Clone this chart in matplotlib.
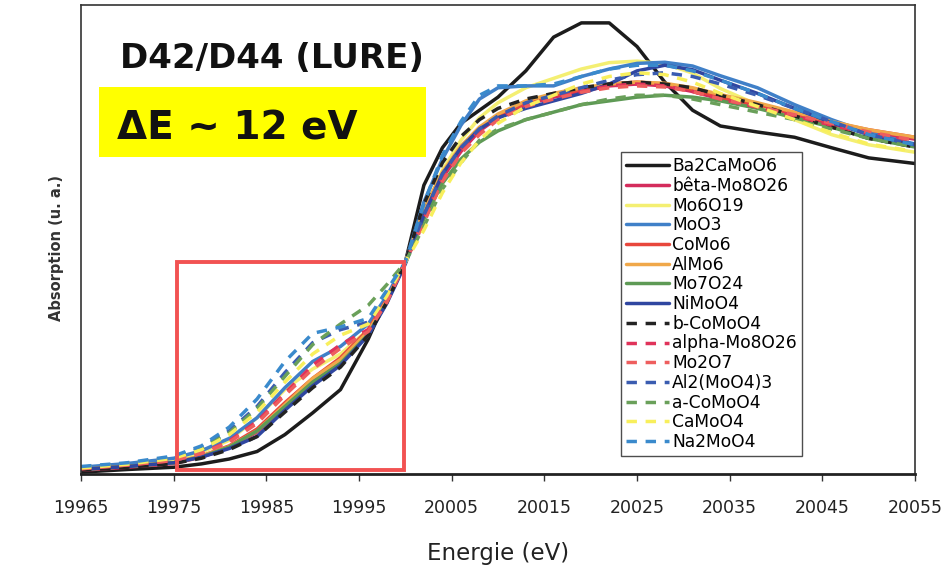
import matplotlib
matplotlib.use("Agg")
import matplotlib.pyplot as plt
from matplotlib.patches import Rectangle

# Energy grid (eV) shared by every spectrum
energy = [19965, 19970, 19975, 19978, 19981, 19984, 19987, 19990, 19993, 19996,
          19998, 20000, 20002, 20004, 20006, 20008, 20010, 20013, 20016, 20019,
          20022, 20025, 20028, 20031, 20034, 20038, 20042, 20046, 20050, 20055]

# Normalised Mo K-edge absorption (arbitrary units)
ba2camoo6 = [.005, .012, .018, .027, .040, .060, .105, .163, .225, .360, .470, .565, .770, .870, .935,
             .970, 1.005, 1.075, 1.165, 1.203, 1.203, 1.140, 1.045, .970, .928, .912, .898, .870, .843, .828]
beta_mo8o26 = [.010, .018, .028, .045, .070, .112, .180, .245, .300, .378, .462, .565, .690, .790, .860,
               .915, .950, .985, 1.005, 1.020, 1.035, 1.040, 1.035, 1.020, 1.000, .978, .955, .932, .912, .893]
mo6o19 = [.015, .025, .038, .058, .090, .150, .225, .280, .320, .385, .465, .565, .700, .810, .890,
          .950, .990, 1.030, 1.055, 1.080, 1.097, 1.101, 1.094, 1.069, 1.028, .985, .945, .905, .878, .858]
moo3 = [.018, .028, .042, .062, .095, .150, .230, .300, .340, .400, .475, .565, .725, .840, .930,
        1.000, 1.030, 1.035, 1.035, 1.060, 1.080, 1.095, 1.098, 1.088, 1.062, 1.030, .985, .945, .910, .880]
como6 = [.012, .020, .030, .048, .075, .120, .190, .255, .310, .385, .465, .565, .700, .800, .870,
         .920, .955, .990, 1.010, 1.025, 1.040, 1.045, 1.040, 1.025, 1.005, .985, .962, .938, .918, .898]
almo6 = [.012, .020, .030, .048, .073, .115, .185, .255, .305, .380, .462, .565, .705, .805, .875,
         .925, .960, .995, 1.015, 1.030, 1.040, 1.045, 1.042, 1.030, 1.012, .990, .965, .940, .918, .898]
mo7o24 = [.012, .020, .030, .046, .072, .115, .180, .245, .295, .372, .458, .565, .680, .775, .840,
          .885, .915, .945, .965, .985, .995, 1.005, 1.010, 1.005, .995, .975, .950, .925, .895, .872]
nimoo4 = [.012, .020, .030, .045, .068, .100, .170, .235, .290, .370, .455, .560, .690, .800, .870,
          .920, .950, .975, .995, 1.015, 1.040, 1.075, 1.090, 1.078, 1.050, 1.015, .975, .937, .905, .878]
b_comoo4 = [.010, .018, .028, .042, .065, .100, .165, .230, .285, .370, .458, .565, .720, .830, .900,
            .945, .975, 1.000, 1.015, 1.030, 1.040, 1.045, 1.040, 1.030, 1.010, .985, .955, .925, .895, .872]
alpha_mo8o26 = [.014, .024, .036, .055, .088, .140, .215, .290, .345, .385, .460, .565, .680, .790, .865,
                .915, .950, .985, 1.005, 1.020, 1.035, 1.040, 1.035, 1.020, 1.000, .978, .955, .930, .908, .888]
mo2o7 = [.014, .024, .036, .055, .085, .135, .210, .280, .335, .380, .458, .565, .670, .780, .855,
         .905, .945, .980, 1.000, 1.018, 1.030, 1.035, 1.032, 1.020, 1.000, .980, .958, .935, .912, .890]
al2_moo4_3 = [.018, .028, .045, .070, .115, .180, .270, .350, .385, .405, .480, .565, .690, .800, .870,
              .920, .955, .990, 1.010, 1.030, 1.050, 1.065, 1.070, 1.060, 1.040, 1.010, .975, .940, .905, .878]
a_comoo4 = [.018, .028, .045, .068, .110, .175, .260, .345, .400, .450, .505, .565, .660, .760, .830,
            .890, .920, .945, .965, .985, 1.000, 1.010, 1.010, 1.000, .985, .965, .945, .920, .895, .872]
camoo4 = [.016, .026, .042, .065, .105, .165, .245, .320, .370, .400, .475, .565, .650, .750, .830,
          .890, .935, .980, 1.010, 1.040, 1.060, 1.070, 1.065, 1.045, 1.015, .980, .945, .910, .880, .860]
na2moo4 = [.020, .030, .048, .075, .125, .200, .300, .375, .392, .415, .490, .565, .720, .850, .940,
           1.010, 1.035, 1.035, 1.040, 1.060, 1.080, 1.090, 1.090, 1.075, 1.050, 1.015, .975, .940, .905, .878]

labels = ["Ba2CaMoO6", "bêta-Mo8O26", "Mo6O19", "MoO3", "CoMo6", "AlMo6", "Mo7O24", "NiMoO4",
          "b-CoMoO4", "alpha-Mo8O26", "Mo2O7", "Al2(MoO4)3", "a-CoMoO4", "CaMoO4", "Na2MoO4"]
series = [ba2camoo6, beta_mo8o26, mo6o19, moo3, como6, almo6, mo7o24, nimoo4,
          b_comoo4, alpha_mo8o26, mo2o7, al2_moo4_3, a_comoo4, camoo4, na2moo4]
colors = ["#1c1c1c", "#d42c5c", "#f4ef72", "#4080c8", "#e8473c", "#f0a84a", "#5e9a55", "#2f46a0",
          "#232323", "#e0335a", "#ee5e5e", "#3a5cb0", "#6aa05a", "#f8ef5c", "#3a8acc"]
dashed = [False] * 8 + [True] * 7

xticks = [19965, 19975, 19985, 19995, 20005, 20015, 20025, 20035, 20045, 20055]

W, H = 947, 570
fig = plt.figure(figsize=(W / 100, H / 100), dpi=100)
fig.patch.set_facecolor("white")

ax_l, ax_r, ax_t, ax_b = 81, 915, 5, 474
ax = fig.add_axes([ax_l / W, 1 - ax_b / H, (ax_r - ax_l) / W, (ax_b - ax_t) / H])

for y, lab, c, d in zip(series, labels, colors, dashed):
    ls = (0, (3, 2.5)) if d else "-"
    ax.plot(energy, y, color=c, lw=2.5, ls=ls, label=lab, solid_capstyle="round")

ax.set_xlim(19965, 20055)
ax.set_ylim(0, 1.2507)
ax.set_xticks(xticks)
ax.set_xticklabels([str(t) for t in xticks])
ax.set_yticks([])
ax.tick_params(axis="x", direction="out", length=5, width=1, color="#333333",
               pad=13, labelsize=12.5, labelcolor="#222222")
for side in ["left", "right", "top"]:
    ax.spines[side].set_linewidth(1.2)
    ax.spines[side].set_color("#333333")
ax.spines["bottom"].set_linewidth(2.0)
ax.spines["bottom"].set_color("#222222")

ax.set_xlabel("Energie (eV)", fontsize=16.5, color="#222222", labelpad=18)
fig.text(57 / W, 1 - 248 / H, "Absorption (u. a.)", rotation=90, fontsize=10.5,
         fontweight="bold", color="#333333", ha="center", va="center")

# highlighted pre-edge region
ax.add_patch(Rectangle((19975.4, 0.011), 24.5, 0.554, fill=False,
                       edgecolor="#f25252", lw=2.8, zorder=20))

leg = ax.legend(loc="upper left", bbox_to_anchor=((621 - ax_l) / (ax_r - ax_l), (ax_b - 152) / (ax_b - ax_t)),
                borderaxespad=0, fontsize=12.3, frameon=True, fancybox=False,
                edgecolor="#222222", handlelength=2.5, handletextpad=0.2,
                labelspacing=0.1, borderpad=0.3)
leg.get_frame().set_linewidth(1.0)
leg.set_zorder(30)

# annotation banner
fig.patches.append(Rectangle((99 / W, 1 - 157 / H), 327 / W, 70 / H, transform=fig.transFigure,
                             facecolor="#ffff00", edgecolor="none", zorder=5))
fig.text(120 / W, 1 - 68 / H, "D42/D44 (LURE)", fontsize=24.5, fontweight="bold",
         color="#111111", ha="left", va="baseline", zorder=6)
fig.text(117 / W, 1 - 139 / H, "ΔE ~ 12 eV", fontsize=28, fontweight="bold",
         color="#111111", ha="left", va="baseline", zorder=6)

fig.savefig("out.png", dpi=100, facecolor="white")
